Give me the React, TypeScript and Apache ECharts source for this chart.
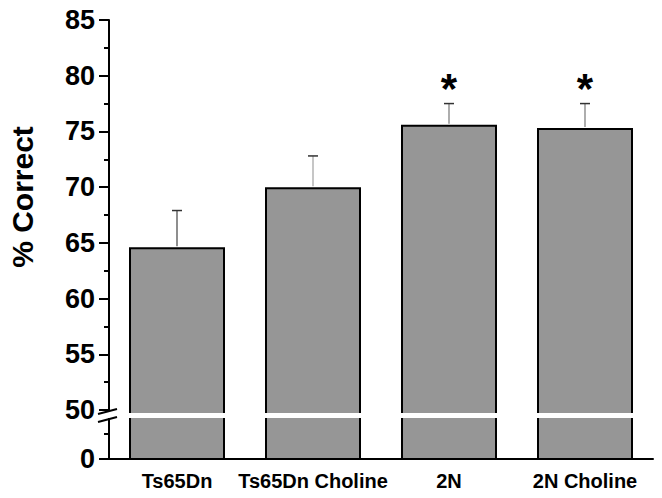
import React, { useEffect, useRef } from "react";
import * as echarts from "echarts";

const categories = ["Ts65Dn", "Ts65Dn Choline", "2N", "2N Choline"];
const means = [64.6, 70.0, 75.6, 75.3];
const errTops = [67.9, 72.8, 77.5, 77.5];
const significant = [false, false, true, true];
const majorTicks = [50, 55, 60, 65, 70, 75, 80, 85];
const minorTicks = [52.5, 57.5, 62.5, 67.5, 72.5, 77.5, 82.5];

// broken-axis layout: the bottom of the axis (labelled 0) is drawn just below 50
const AXIS_MIN = 45.6;
const AXIS_ZERO = AXIS_MIN;
const LOWER_MINOR = 47.85;
const BREAK_TOP = 49.73;
const BREAK_BOTTOM = 49.28;

const errColors = ["#444", "#a0a0a0", "#777", "#777"];
const FONT = "'Liberation Sans', Arial, Helvetica, sans-serif";

export default function App() {
  const ref = useRef<HTMLDivElement>(null);
  useEffect(() => {
    if (!ref.current) return;
    document.body.style.margin = "0";
    document.body.style.overflow = "hidden";
    const chart = echarts.init(ref.current, null, { renderer: "svg" });
    const errData = categories.map((_, i) => [i, means[i], errTops[i], significant[i] ? 1 : 0]);
    chart.setOption({
      animation: false,
      backgroundColor: "#fff",
      grid: { left: 109, right: 9, top: 20, bottom: 39, containLabel: false },
      xAxis: {
        type: "category",
        data: categories,
        axisLine: { lineStyle: { color: "#000", width: 2 } },
        axisTick: { alignWithLabel: true, length: 9, lineStyle: { color: "#000", width: 2 } },
        axisLabel: {
          color: "#000",
          fontFamily: FONT,
          fontWeight: "bold",
          fontSize: 20,
          margin: 12,
          interval: 0,
        },
      },
      yAxis: [
        {
          type: "value",
          min: AXIS_MIN,
          max: 85,
          position: "left",
          splitLine: { show: false },
          axisLine: { show: true, lineStyle: { color: "#000", width: 2 } },
          axisTick: {
            show: true,
            length: 10,
            lineStyle: { color: "#000", width: 2 },
            customValues: [AXIS_ZERO, ...majorTicks],
          },
          axisLabel: {
            color: "#000",
            fontFamily: FONT,
            fontWeight: "bold",
            fontSize: 27,
            margin: 14,
            customValues: [AXIS_ZERO, ...majorTicks],
            formatter: (v: number) => (v < 49 ? "0" : String(Math.round(v))),
          },
        },
        {
          type: "value",
          min: AXIS_MIN,
          max: 85,
          position: "left",
          splitLine: { show: false },
          axisLine: { show: false },
          axisTick: {
            show: true,
            length: 5,
            lineStyle: { color: "#000", width: 2 },
            customValues: [LOWER_MINOR, ...minorTicks],
          },
          axisLabel: { show: false, customValues: [LOWER_MINOR, ...minorTicks] },
        },
      ],
      series: [
        {
          type: "bar",
          data: means,
          barWidth: 96,
          itemStyle: { color: "#969696", borderColor: "#000", borderWidth: 2 },
          z: 2,
        },
        {
          type: "custom",
          data: errData,
          encode: { x: 0, y: 1 },
          z: 3,
          renderItem: (params: any, api: any) => {
            const i = api.value(0);
            const p0 = api.coord([i, api.value(1)]);
            const p1 = api.coord([i, api.value(2)]);
            const children: any[] = [
              {
                type: "line",
                shape: { x1: p0[0], y1: p0[1] - 1, x2: p1[0], y2: p1[1] },
                style: { stroke: errColors[params.dataIndex], lineWidth: 1.2 },
              },
              {
                type: "line",
                shape: { x1: p1[0] - 5, y1: p1[1], x2: p1[0] + 5, y2: p1[1] },
                style: { stroke: "#333", lineWidth: 1.5 },
              },
            ];
            if (api.value(3)) {
              children.push({
                type: "text",
                x: p1[0],
                y: p1[1] - 15,
                style: {
                  text: "*",
                  fill: "#000",
                  font: `bold 42px ${FONT}`,
                  align: "center",
                  verticalAlign: "middle",
                },
              });
            }
            return { type: "group", children };
          },
        },
      ],
    });

    const leftX = 109;
    const rightX = 662 - 9;
    const yTop = chart.convertToPixel({ yAxisIndex: 0 }, BREAK_TOP) as number;
    const yBot = chart.convertToPixel({ yAxisIndex: 0 }, BREAK_BOTTOM) as number;
    const y50 = chart.convertToPixel({ yAxisIndex: 0 }, 50) as number;
    chart.setOption({
      graphic: [
        {
          type: "rect",
          z: 100,
          shape: { x: leftX + 2, y: yTop, width: rightX - leftX, height: yBot - yTop },
          style: { fill: "#fff" },
        },
        {
          type: "rect",
          z: 100,
          shape: { x: leftX - 3, y: y50 + 1, width: 6, height: yBot - y50 - 1 },
          style: { fill: "#fff" },
        },
        {
          type: "line",
          z: 101,
          shape: { x1: leftX - 11, y1: y50 + 4, x2: leftX + 8, y2: y50 - 1 },
          style: { stroke: "#000", lineWidth: 2 },
        },
        {
          type: "line",
          z: 101,
          shape: { x1: leftX - 11, y1: yBot + 4, x2: leftX + 8, y2: yBot - 1 },
          style: { stroke: "#000", lineWidth: 2 },
        },
        {
          type: "text",
          z: 101,
          x: 22,
          y: 197,
          rotation: Math.PI / 2,
          style: {
            text: "% Correct",
            fill: "#000",
            font: `bold 30px ${FONT}`,
            align: "center",
            verticalAlign: "middle",
          },
        },
      ],
    });
    return () => chart.dispose();
  }, []);
  return <div ref={ref} style={{ width: 662, height: 498 }} />;
}
